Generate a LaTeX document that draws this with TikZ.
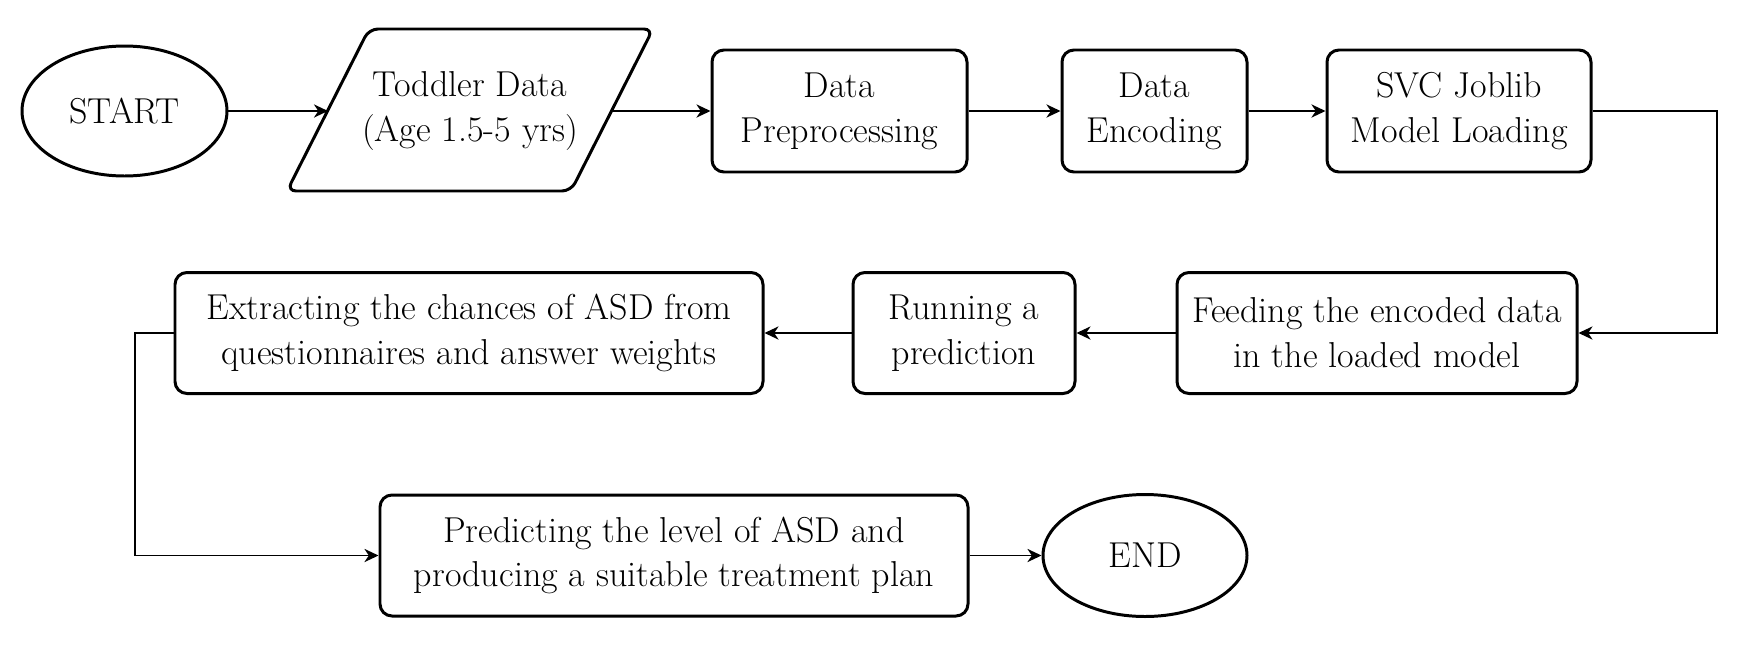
\documentclass[tikz,border=0pt]{standalone}
\usetikzlibrary{arrows.meta,shapes.geometric}
\newdimen\px \px=0.02cm
\begin{document}
\begin{tikzpicture}[x=0.02cm,y=-0.02cm,
  txt/.style={font=\rmfamily\fontsize{20.5}{25.5}\selectfont, align=center, inner sep=0pt},
  box/.style={txt, draw, line width=1.7pt, rounded corners=12\px},
  term/.style={txt, draw, ellipse, line width=1.7pt},
  conn/.style={line width=1.1pt, -{Stealth[length=8pt,width=7.5pt,inset=2.5pt]}}]
\useasboundingbox (0,0) rectangle (1738,660);
% row 1
\node[term, minimum width=205\px, minimum height=130\px] (start) at (124.5,111) {START};
\draw[line width=1.7pt, rounded corners=9\px] (369,29) -- (653,29) -- (571,191) -- (287,191) -- cycle;
\node[txt] (toddler) at (470,111) {Toddler Data\\(Age 1.5-5 yrs)};
\coordinate (tdL) at (328,111);
\coordinate (tdR) at (612,111);
\node[box, minimum width=255\px, minimum height=122\px] (prep) at (839.5,111) {Data\\Preprocessing};
\node[box, minimum width=185\px, minimum height=122\px] (enc) at (1154.5,111) {Data\\Encoding};
\node[box, minimum width=264\px, minimum height=122\px] (svc) at (1459,111) {SVC Joblib\\Model Loading};
% row 2
\node[box, minimum width=400\px, minimum height=121\px] (feed) at (1377,333) {Feeding the encoded data\\in the loaded model};
\node[box, minimum width=222\px, minimum height=121\px] (run) at (964,333) {Running a\\prediction};
\node[box, minimum width=588\px, minimum height=121\px] (ext) at (469,333) {Extracting the chances of ASD from\\questionnaires and answer weights};
% row 3
\node[box, minimum width=588\px, minimum height=121\px] (pred) at (674,555.5) {Predicting the level of ASD and\\producing a suitable treatment plan};
\node[term, minimum width=204\px, minimum height=122\px] (end) at (1145,555.5) {END};
% connectors
\coordinate (rx) at (1717,111);
\coordinate (lx) at (135,333);
\draw[conn] (start.east) -- (tdL);
\draw[conn] (tdR) -- (prep.west);
\draw[conn] (prep.east) -- (enc.west);
\draw[conn] (enc.east) -- (svc.west);
\draw[conn] (svc.east) -- (rx) |- (feed.east);
\draw[conn] (feed.west) -- (run.east);
\draw[conn] (run.west) -- (ext.east);
\draw[conn] (ext.west) -- (lx) |- (pred.west);
\draw[conn] (pred.east) -- (end.west);
\end{tikzpicture}
\end{document}
